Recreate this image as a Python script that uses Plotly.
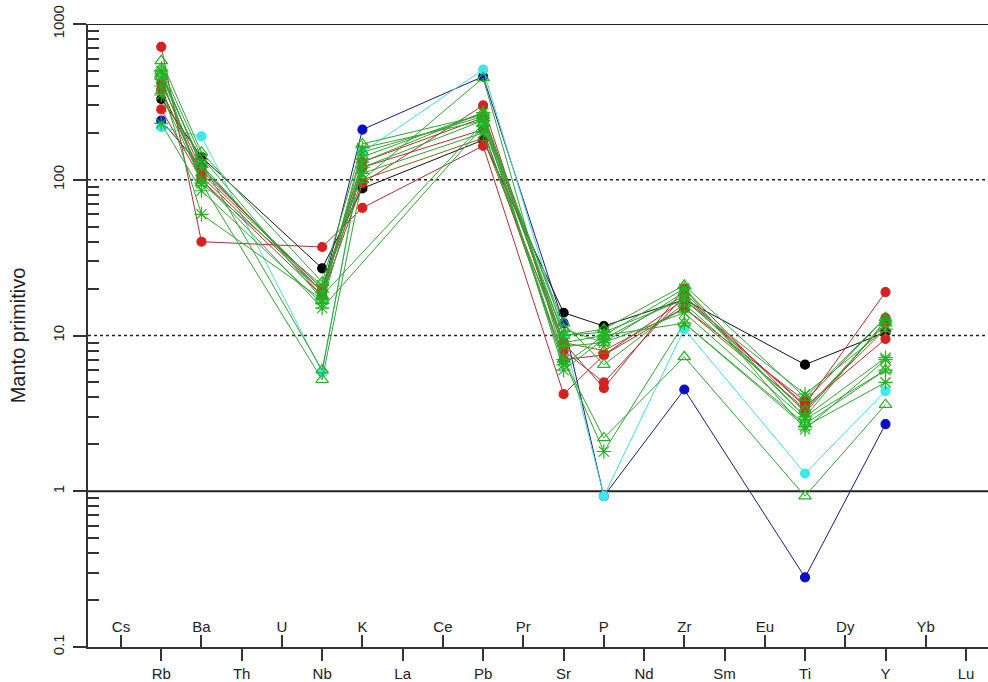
import plotly.graph_objects as go

# Spider diagram: trace elements normalised to primitive mantle
elements = ["Cs", "Rb", "Ba", "Th", "U", "Nb", "K", "La", "Ce", "Pb", "Pr",
            "Sr", "P", "Nd", "Zr", "Sm", "Eu", "Ti", "Dy", "Y", "Yb", "Lu"]
element_pos = list(range(1, len(elements) + 1))

# Elements with analysed values
analysed = ["Rb", "Ba", "Nb", "K", "Pb", "Sr", "P", "Zr", "Ti", "Y"]

# Normalised values per sample (None = not analysed)
black_1 = [330, 140, 27, 88, 180, 14, 11.5, 17, 6.5, 10.5]
blue_1 = [240, 120, 19, 210, 460, 12, 0.93, 4.5, 0.28, 2.7]
cyan_1 = [218, 190, 5.8, 150, 510, 10, 0.93, 11, 1.3, 4.4]
red_1 = [714, 40, 37, 66, 165, 4.2, 7.5, 17, 3.6, 19]
red_2 = [283, 100, 18, 95, 300, 8, 5.0, 18, 3.5, 9.5]
red_3 = [420, 115, 20, 130, 250, 9, 4.6, 20, 3.2, 12]
red_4 = [380, 105, 19, 120, 210, 7, 7.5, 15, 3.8, 13]
olive_1 = [370, 110, 20, 100, 185, 9, 8, 15, 3.4, 11]
green_tri_1 = [500, 95, 5.2, 100, 450, 7, 2.2, 7.3, 0.93, 3.6]
green_tri_2 = [460, 130, 6.0, 140, 270, 9, 10, 12, 2.7, 6]
green_tri_3 = [580, 150, 22, 170, 260, 11, 9, 19, 3.0, 12.5]
green_tri_4 = [480, 125, 18, None, 230, 12, 6.5, 16, 3.3, 12]
green_tri_5 = [520, 140, 17, 150, 255, 10, 11, 21, 4.0, 13]
green_ast_1 = [230, 85, 16, 120, 240, 7, 1.8, 12, 2.6, 5]
green_ast_2 = [400, 60, 17, 160, 240, 6.5, 10, 20, 2.5, 7]
green_ast_3 = [350, 100, 15, None, 220, 10, 10.5, 17, 4.2, 11]
green_ast_4 = [450, 95, 21, 110, 200, 8.5, 9, 14, 2.9, 6]
green_ast_5 = [500, 120, 19, 130, 270, 6, 9.5, 18, 3.0, 7.2]

lower_labels = elements[1::2]   # labels below the axis
upper_labels = elements[0::2]   # labels above the axis

RED_LINE, RED_MK = "#a83232", "#d42222"
GREEN_LINE, GREEN_MK = "#34a234", "#22b422"

series = [
    (black_1, "#111111", "#000000", "circle", 9),
    (blue_1, "#1a1a7a", "#0a10c0", "circle", 9),
    (cyan_1, "#48d8d8", "#3ee8e8", "circle", 9),
    (red_1, RED_LINE, RED_MK, "circle", 9),
    (red_2, RED_LINE, RED_MK, "circle", 9),
    (red_3, RED_LINE, RED_MK, "circle", 9),
    (red_4, RED_LINE, RED_MK, "circle", 9),
    (olive_1, "#7a6a1a", "#8a6a10", "triangle-up-open", 10),
    (green_tri_1, GREEN_LINE, GREEN_MK, "triangle-up-open", 11),
    (green_tri_2, GREEN_LINE, GREEN_MK, "triangle-up-open", 11),
    (green_tri_3, GREEN_LINE, GREEN_MK, "triangle-up-open", 11),
    (green_tri_4, GREEN_LINE, GREEN_MK, "triangle-up-open", 11),
    (green_tri_5, GREEN_LINE, GREEN_MK, "triangle-up-open", 11),
    (green_ast_1, GREEN_LINE, GREEN_MK, "asterisk-open", 12),
    (green_ast_2, GREEN_LINE, GREEN_MK, "asterisk-open", 12),
    (green_ast_3, GREEN_LINE, GREEN_MK, "asterisk-open", 12),
    (green_ast_4, GREEN_LINE, GREEN_MK, "asterisk-open", 12),
    (green_ast_5, GREEN_LINE, GREEN_MK, "asterisk-open", 12),
]

pos_of = dict(zip(elements, element_pos))
x_vals = [pos_of[e] for e in analysed]

fig = go.Figure()
for vals, lc, mc, sym, size in series:
    fig.add_trace(go.Scatter(
        x=x_vals, y=vals, mode="lines+markers", connectgaps=True,
        line=dict(color=lc, width=1),
        marker=dict(symbol=sym, size=size, color=mc,
                    line=dict(color=mc, width=1.2)),
        showlegend=False, hoverinfo="skip"))

# empty trace to carry the second (upper-label) x axis
fig.add_trace(go.Scatter(x=[], y=[], xaxis="x2", showlegend=False))

FONT = "Liberation Sans, Arial, sans-serif"
x_range = [0.18, 22.547]

minor_vals = [k * 10 ** e for e in range(-1, 3) for k in range(2, 10)]

fig.update_layout(
    width=988, height=682,
    margin=dict(l=88, r=0, t=24, b=30),
    paper_bgcolor="white", plot_bgcolor="white",
    font=dict(family=FONT, color="#222222"),
    xaxis=dict(
        range=x_range, tickmode="array",
        tickvals=[pos_of[e] for e in lower_labels], ticktext=lower_labels,
        ticks="outside", ticklen=12, tickwidth=1.5, tickcolor="#333333",
        showline=True, linecolor="#333333", linewidth=1.5,
        showgrid=False, zeroline=False, tickfont=dict(size=15, family=FONT),
    ),
    # upper labels: a top-sided axis placed on the bottom edge of the plot
    xaxis2=dict(
        range=x_range, overlaying="x", anchor="free", position=0, side="top",
        tickmode="array",
        tickvals=[pos_of[e] for e in upper_labels], ticktext=upper_labels,
        ticks="outside", ticklen=12, tickwidth=1.5, tickcolor="#333333",
        ticklabelstandoff=-3,
        showline=False, showgrid=False, zeroline=False,
        tickfont=dict(size=15, family=FONT),
    ),
    yaxis=dict(
        type="log", range=[-1, 3],
        tickmode="array", tickvals=[0.1, 1, 10, 100, 1000],
        ticktext=["0.1", "1", "10", "100", "1000"],
        ticks="outside", ticklen=13, tickwidth=1.5, tickcolor="#333333",
        tickangle=-90, tickfont=dict(size=15, family=FONT),
        ticklabelstandoff=3,
        minor=dict(tickmode="array", tickvals=minor_vals, ticks="inside",
                   ticklen=11, tickwidth=1.5, tickcolor="#333333",
                   showgrid=False),
        showline=True, linecolor="#333333", linewidth=1.5,
        showgrid=False, zeroline=False,
        title=dict(text="Manto primitivo", standoff=19,
                   font=dict(size=20, family=FONT, color="#222222")),
    ),
)

# reference levels: solid at 1 and 1000, dotted at 10 and 100
for level, dash in [(1000, "solid"), (100, "dot"), (10, "dot"), (1, "solid")]:
    fig.add_shape(type="line", xref="paper", yref="y",
                  x0=0, x1=1, y0=level, y1=level,
                  line=dict(color="#222222", width=1.8 if dash == "solid" else 1.6,
                            dash=dash), layer="below")

fig.write_html("out.html")
